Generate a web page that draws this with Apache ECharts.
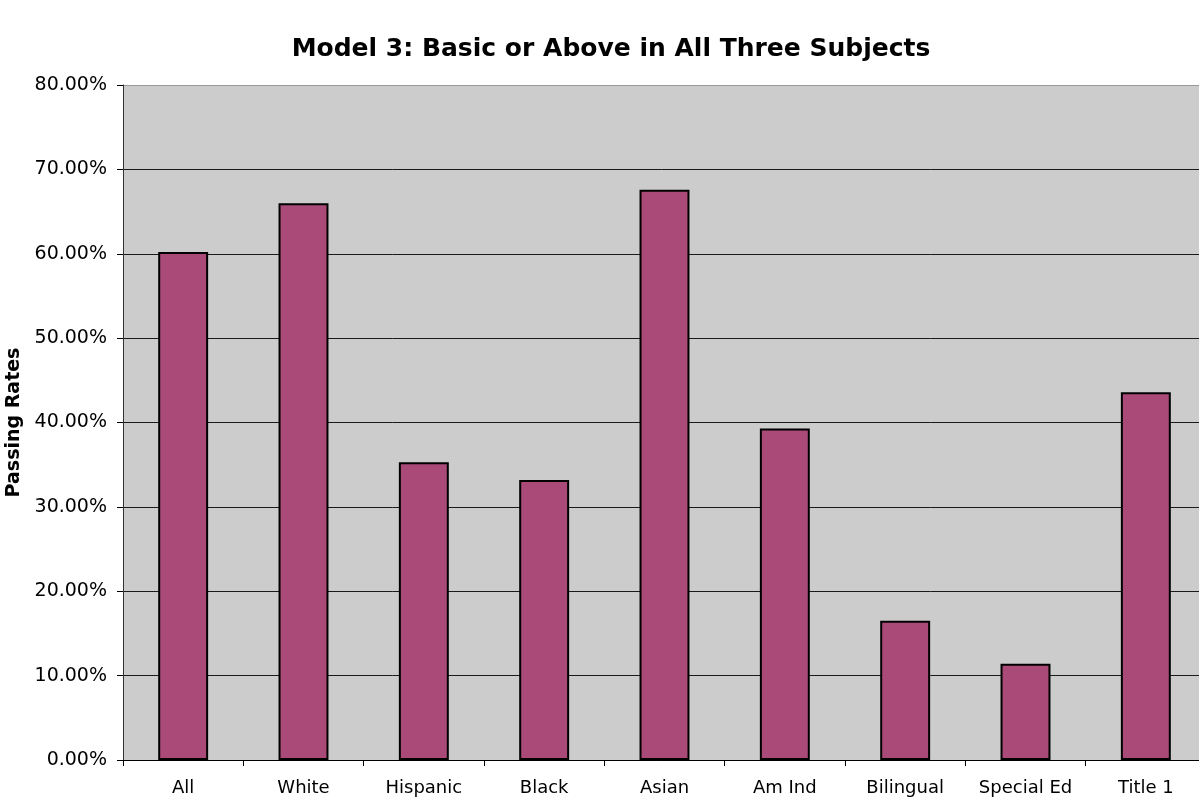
<!DOCTYPE html>
<html>
<head>
<meta charset="utf-8">
<script src="https://cdn.jsdelivr.net/npm/echarts@6/dist/echarts.min.js"></script>
<style>
  html, body { margin: 0; padding: 0; background: #fff; }
  #chart { width: 1199px; height: 801px; }
</style>
</head>
<body>
<div id="chart"></div>
<script>
// categories and passing rates (percent)
const categories = ['All', 'White', 'Hispanic', 'Black', 'Asian', 'Am Ind', 'Bilingual', 'Special Ed', 'Title 1'];
const passingRates = [60.2, 66.0, 35.3, 33.2, 67.6, 39.3, 16.5, 11.4, 43.6];
const yTicks = [0, 10, 20, 30, 40, 50, 60, 70, 80];

const chart = echarts.init(document.getElementById('chart'));

const font = 'DejaVu Sans, Verdana, sans-serif';
// top line (80%) is the plot border, lighter than the inner grid lines
const splitColors = yTicks.map((t, i) => (i === yTicks.length - 1 ? '#999999' : '#1a1a1a'));

const option = {
  animation: false,
  title: {
    text: 'Model 3: Basic or Above in All Three Subjects',
    left: 606,
    textAlign: 'center',
    top: 32,
    textStyle: {
      fontFamily: font,
      fontSize: 25,
      fontWeight: 'bold',
      color: '#000'
    }
  },
  grid: {
    left: 123,
    right: -7,
    top: 85,
    bottom: 41,
    outerBoundsMode: 'none',
    containLabel: false,
    show: true,
    backgroundColor: '#cccccc',
    borderWidth: 0
  },
  xAxis: {
    type: 'category',
    data: categories,
    axisLine: { lineStyle: { color: '#000', width: 1 } },
    axisTick: { show: true, interval: 0, length: 6, lineStyle: { color: '#000' } },
    axisLabel: {
      interval: 0,
      margin: 19,
      fontFamily: font,
      fontSize: 18,
      color: '#000'
    }
  },
  yAxis: {
    type: 'value',
    min: 0,
    max: 80,
    interval: 10,
    name: 'Passing Rates',
    nameLocation: 'middle',
    nameRotate: 90,
    nameGap: 93,
    nameTextStyle: {
      fontFamily: font,
      fontSize: 19,
      fontWeight: 'bold',
      color: '#000'
    },
    axisLine: { show: true, lineStyle: { color: '#333', width: 1 } },
    axisTick: { show: true, length: 6, lineStyle: { color: '#000' } },
    axisLabel: {
      margin: 16,
      fontFamily: font,
      fontSize: 19,
      color: '#000',
      formatter: v => v.toFixed(2) + '%'
    },
    splitLine: { show: true, lineStyle: { color: splitColors, width: 1 } }
  },
  series: [{
    type: 'bar',
    data: passingRates,
    barWidth: '41.5%',
    itemStyle: {
      color: '#aa4a78',
      borderColor: '#000',
      borderWidth: 2
    }
  }]
};

chart.setOption(option);
</script>
</body>
</html>
